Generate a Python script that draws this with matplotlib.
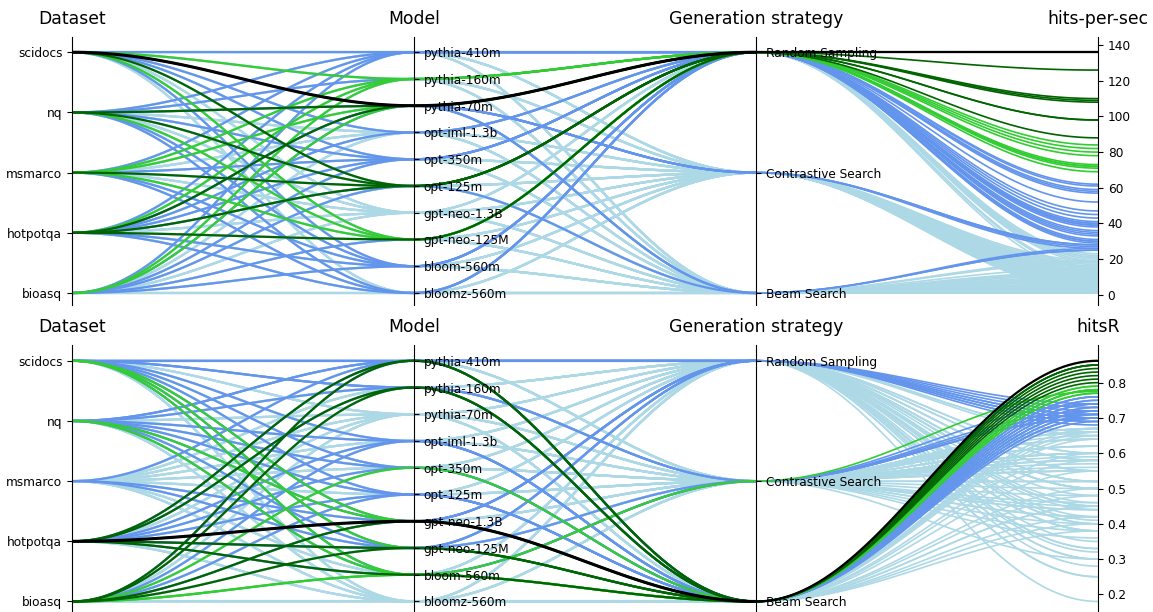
import numpy as np
import matplotlib
matplotlib.use("Agg")
import matplotlib.pyplot as plt


datasets = ["scidocs", "nq", "msmarco", "hotpotqa", "bioasq"]
models = [
    "pythia-410m", "pythia-160m", "pythia-70m", "opt-iml-1.3b", "opt-350m",
    "opt-125m", "gpt-neo-1.3B", "gpt-neo-125M", "bloom-560m", "bloomz-560m",
]
strategies = ["Random Sampling", "Contrastive Search", "Beam Search"]

# rows follow `datasets`, columns follow `models`
hps_random = [
    [52, 84, 136, 30, 61, 98, 18, 72, 36, 21],
    [45, 62, 110, 23, 43, 109, 15, 69, 35, 34],
    [41, 78, 82, 21, 40, 88, 14, 71, 31, 30],
    [47, 80, 126, 33, 59, 108, 20, 98, 40, 39],
    [38, 72, 73, 19, 39, 58, 12, 57, 29, 22],
]
hps_contrastive = [
    [9, 15, 28, 4, 8, 14, 3, 12, 6, 6],
    [8, 13, 27, 4, 7, 16, 3, 11, 6, 5],
    [7, 14, 19, 3, 7, 13, 2, 12, 5, 5],
    [10, 17, 28, 5, 9, 18, 4, 16, 7, 7],
    [8, 12, 26, 4, 8, 11, 3, 10, 5, 6],
]
hps_beam = [
    [5, 9, 25, 2, 5, 12, 1, 9, 3, 3],
    [5, 8, 19, 2, 4, 13, 1, 8, 3, 3],
    [4, 9, 15, 2, 4, 10, 1, 8, 3, 2],
    [6, 11, 26, 3, 6, 25, 2, 12, 4, 4],
    [5, 8, 18, 2, 5, 9, 1, 7, 3, 3],
]

hitsr_random = [
    [0.72, 0.55, 0.35, 0.50, 0.45, 0.40, 0.70, 0.69, 0.52, 0.30],
    [0.70, 0.52, 0.30, 0.48, 0.42, 0.38, 0.69, 0.66, 0.50, 0.28],
    [0.66, 0.45, 0.25, 0.40, 0.38, 0.33, 0.60, 0.58, 0.44, 0.18],
    [0.74, 0.58, 0.38, 0.55, 0.50, 0.45, 0.73, 0.71, 0.60, 0.33],
    [0.71, 0.50, 0.32, 0.52, 0.46, 0.41, 0.68, 0.65, 0.55, 0.25],
]
hitsr_contrastive = [
    [0.60, 0.70, 0.45, 0.55, 0.58, 0.65, 0.66, 0.66, 0.72, 0.40],
    [0.58, 0.66, 0.42, 0.52, 0.55, 0.62, 0.64, 0.66, 0.70, 0.38],
    [0.52, 0.62, 0.36, 0.46, 0.50, 0.56, 0.58, 0.60, 0.64, 0.30],
    [0.62, 0.71, 0.48, 0.57, 0.60, 0.66, 0.67, 0.70, 0.74, 0.44],
    [0.60, 0.67, 0.44, 0.55, 0.59, 0.64, 0.67, 0.67, 0.775, 0.42],
]
hitsr_beam = [
    [0.76, 0.75, 0.48, 0.72, 0.73, 0.71, 0.78, 0.79, 0.78, 0.45],
    [0.74, 0.72, 0.45, 0.70, 0.71, 0.70, 0.77, 0.76, 0.77, 0.42],
    [0.72, 0.66, 0.40, 0.64, 0.66, 0.65, 0.70, 0.69, 0.67, 0.38],
    [0.85, 0.84, 0.60, 0.74, 0.76, 0.75, 0.862, 0.85, 0.83, 0.55],
    [0.85, 0.82, 0.58, 0.73, 0.78, 0.74, 0.80, 0.81, 0.79, 0.50],
]

hps_bins = [(24, "cornflowerblue"), (65, "limegreen"), (85, "darkgreen"), (130, "black")]
hitsr_bins = [(0.68, "cornflowerblue"), (0.765, "limegreen"), (0.80, "darkgreen"), (0.855, "black")]

Y_LO, Y_HI = -0.05, 1.065
TITLE_SIZE = 12.4
TICK_SIZE = 8.7


def pick_color(value, bins):
    color = "lightblue"
    for cut, c in bins:
        if value >= cut:
            color = c
    return color


def cat_pos(n):
    return [1 - k / (n - 1) for k in range(n)]


def smooth_path(ys, start, stop, steps=60):
    t = np.linspace(0, 1, steps)
    s = (1 - np.cos(np.pi * t)) / 2
    xs, yy = [], []
    for i in range(start, stop):
        xs.append(i + t)
        yy.append(ys[i] + (ys[i + 1] - ys[i]) * s)
    return np.concatenate(xs), np.concatenate(yy)


def draw_panel(ax, tables, value_name, bins):
    rows = []
    for s, table in enumerate(tables):
        for d, line in enumerate(table):
            for m, value in enumerate(line):
                rows.append((d, m, s, value))
    values = np.array([r[3] for r in rows])
    vmin, vmax = values.min(), values.max()
    span = vmax - vmin

    dpos, mpos, spos = cat_pos(len(datasets)), cat_pos(len(models)), cat_pos(len(strategies))

    ax.set_xlim(0, 3)
    ax.set_ylim(Y_LO, Y_HI)
    for side in ["top", "right", "bottom"]:
        ax.spines[side].set_visible(False)
    ax.set_xticks([])
    ax.set_yticks(dpos)
    ax.set_yticklabels(datasets, fontsize=TICK_SIZE)

    for i, (pos, labels) in enumerate([(mpos, models), (spos, strategies), (None, None)], start=1):
        tw = ax.twinx()
        for side in ["top", "left", "bottom"]:
            tw.spines[side].set_visible(False)
        tw.spines["right"].set_position(("data", i))
        if pos is not None:
            tw.set_ylim(Y_LO, Y_HI)
            tw.set_yticks(pos)
            tw.set_yticklabels(labels, fontsize=TICK_SIZE)
        else:
            tw.set_ylim(vmin + Y_LO * span, vmin + Y_HI * span)
            ticks = [t for t in tw.get_yticks()
                     if vmin + Y_LO * span <= t <= vmax - Y_LO * span]
            tw.set_yticks(ticks)
            tw.tick_params(axis="y", labelsize=TICK_SIZE)

    for idx in np.argsort(values, kind="stable"):
        d, m, s, value = rows[idx]
        ys = [dpos[d], mpos[m], spos[s], (value - vmin) / span]
        color = pick_color(value, bins)
        lw = 2.2 if color == "black" else 1.6
        x1, y1 = smooth_path(ys, 0, 2)
        ax.plot(x1, y1, color=color, lw=lw, solid_capstyle="butt", clip_on=False)
        x2, y2 = smooth_path(ys, 2, 3)
        ax.plot(x2, y2, color=color, lw=lw * 0.75, solid_capstyle="butt", clip_on=False)

    for i, name in enumerate(["Dataset", "Model", "Generation strategy", value_name]):
        ax.text(i, 1.118, name, ha="center", va="baseline", fontsize=TITLE_SIZE)


fig = plt.figure(figsize=(11.53, 6.12), dpi=100)
ax_top = fig.add_axes([0.0625, 0.5016, 0.8898, 0.4386])
ax_bottom = fig.add_axes([0.0625, -0.0025, 0.8898, 0.4386])

draw_panel(ax_top, [hps_random, hps_contrastive, hps_beam], "hits-per-sec", hps_bins)
draw_panel(ax_bottom, [hitsr_random, hitsr_contrastive, hitsr_beam], "hitsR", hitsr_bins)

fig.savefig("out.png", dpi=100)
